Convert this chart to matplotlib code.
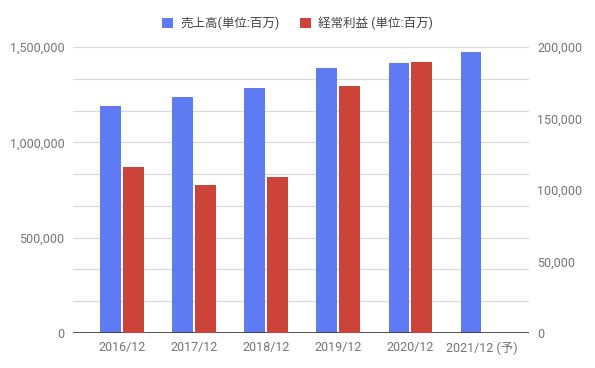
import numpy as np
import matplotlib.pyplot as plt

plt.rcParams['font.family'] = ['Roboto', 'Noto Sans CJK JP', 'DejaVu Sans']

categories = ['2016/12', '2017/12', '2018/12', '2019/12', '2020/12', '2021/12 (予)']
sales = [1190000, 1238000, 1285000, 1390000, 1416000, 1474000]
profit = [116300, 103700, 109300, 172700, 189500, np.nan]

blue = '#5f7bf3'
red = '#cc4339'
grey = '#757575'

fig = plt.figure(figsize=(5.95, 3.68), dpi=100)
ax = fig.add_axes([0.1227, 0.0951, 0.7664, 0.7769])
ax2 = ax.twinx()

x = np.arange(len(categories))
w = 0.29
ax.bar(x - 0.155, sales, width=w, color=blue, zorder=3, label='売上高(単位:百万)')
ax2.bar(x + 0.155, profit, width=w, color=red, zorder=3, label='経常利益 (単位:百万)')

ax.set_xlim(-0.68, 5.65)
ax.set_ylim(0, 1500000)
ax2.set_ylim(0, 200000)

ax.set_yticks([0, 500000, 1000000, 1500000])
ax.set_yticklabels([f'{v:,}' for v in [0, 500000, 1000000, 1500000]])
ax2.set_yticks([0, 50000, 100000, 150000, 200000])
ax2.set_yticklabels([f'{v:,}' for v in [0, 50000, 100000, 150000, 200000]])
ax.set_xticks(x)
ax.set_xticklabels(categories)

# grid lines: major + minor, 9 equal steps
for g in np.linspace(0, 1500000, 10)[1:]:
    ax.axhline(g, color='#d9d9d9', lw=0.9, zorder=0)
ax.axhline(0, color='#333333', lw=1.2, zorder=4)

for a in (ax, ax2):
    for s in a.spines.values():
        s.set_visible(False)
    a.tick_params(length=0, labelsize=9, colors=grey)
ax.tick_params(axis='x', pad=6)
ax.tick_params(axis='y', pad=6)
ax2.tick_params(axis='y', pad=6)

h1, l1 = ax.get_legend_handles_labels()
h2, l2 = ax2.get_legend_handles_labels()
fig.legend(h1 + h2, l1 + l2, loc='upper center', bbox_to_anchor=(0.5, 0.985),
           ncol=2, frameon=False, fontsize=9, handlelength=0.9, handleheight=0.9,
           handletextpad=0.6, columnspacing=1.6, labelcolor='#444444')

fig.savefig('out.png', dpi=100)
